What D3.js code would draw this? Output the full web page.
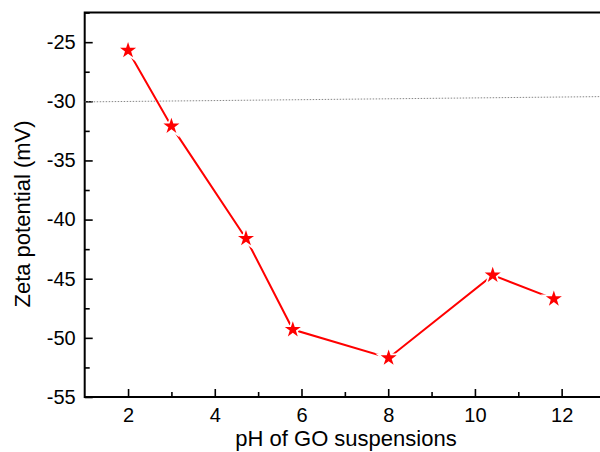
<!DOCTYPE html>
<html><head><meta charset="utf-8">
<script src="https://cdn.jsdelivr.net/npm/d3@7"></script>
<style>body{margin:0;background:#fff;}svg{display:block;font-family:"Liberation Sans",Arial,sans-serif;}</style>
</head><body>
<script>
const pH = [2, 3, 4.72, 5.8, 8.01, 10.41, 11.82];
const zeta = [-25.7, -32.1, -41.6, -49.3, -51.7, -44.7, -46.7];
const refX = [1, 13];
const refY = [-30.05, -29.6];
const xTicks = [2, 4, 6, 8, 10, 12];
const yTicks = [-55, -50, -45, -40, -35, -30, -25];

const W = 600, H = 452;
const svg = d3.select("body").append("svg").attr("width", W).attr("height", H);
const x = d3.scaleLinear().domain([1, 13]).range([84.7, 605]);
const y = d3.scaleLinear().domain([-55, -22.5]).range([397, 12.6]);

// frame
svg.append("path").attr("d", `M${x(13)+5},${y(-22.5)}H${x(1)}V${y(-55)}H${x(13)+5}`)
  .attr("fill","none").attr("stroke","#000").attr("stroke-width",2);

// ticks (inward)
const fmt = d => String(d);
const xAxis = d3.axisBottom(x).tickValues(xTicks).tickSize(-8).tickPadding(11).tickFormat(fmt);
svg.append("g").attr("transform",`translate(0,${y(-55)})`).call(xAxis);
const xMinor = d3.axisBottom(x).tickValues([3,5,7,9,11]).tickSize(-5).tickFormat("");
svg.append("g").attr("transform",`translate(0,${y(-55)})`).call(xMinor);
const yAxis = d3.axisLeft(y).tickValues(yTicks).tickSize(-8).tickPadding(9).tickFormat(fmt);
svg.append("g").attr("transform",`translate(${x(1)},0)`).call(yAxis);
const yMinor = d3.axisLeft(y).tickValues([-52.5,-47.5,-42.5,-37.5,-32.5,-27.5,-22.5]).tickSize(-5).tickFormat("");
svg.append("g").attr("transform",`translate(${x(1)},0)`).call(yMinor);
svg.selectAll(".domain").remove();
svg.selectAll(".tick line").attr("stroke","#000").attr("stroke-width",1.6);
svg.selectAll(".tick text").attr("font-size",20).attr("fill","#000").attr("font-family","Liberation Sans, Arial, sans-serif");

// reference dotted line
svg.append("line").attr("x1",x(refX[0])).attr("y1",y(refY[0])).attr("x2",x(refX[1])).attr("y2",y(refY[1]))
  .attr("stroke","#888").attr("stroke-width",1).attr("stroke-dasharray","1.5,1.5");

// series
const pts = pH.map((v,i)=>[v, zeta[i]]);
svg.append("path").datum(pts).attr("d", d3.line().x(d=>x(d[0])).y(d=>y(d[1])))
  .attr("fill","none").attr("stroke","#ff0000").attr("stroke-width",2);
const star = d3.symbol().type(d3.symbolStar).size(80);
svg.selectAll(".s").data(pts).join("path").attr("class","s")
  .attr("transform",d=>`translate(${x(d[0])},${y(d[1])})`).attr("d",star)
  .attr("fill","#ff0000").attr("stroke","#fff").attr("stroke-width",3.5).attr("paint-order","stroke");

// titles
svg.append("text").attr("x",346).attr("y",446).attr("text-anchor","middle").attr("font-size",22).text("pH of GO suspensions");
svg.append("text").attr("transform","translate(30,214) rotate(-90)").attr("text-anchor","middle").attr("font-size",22).text("Zeta potential (mV)");
</script>
</body></html>
